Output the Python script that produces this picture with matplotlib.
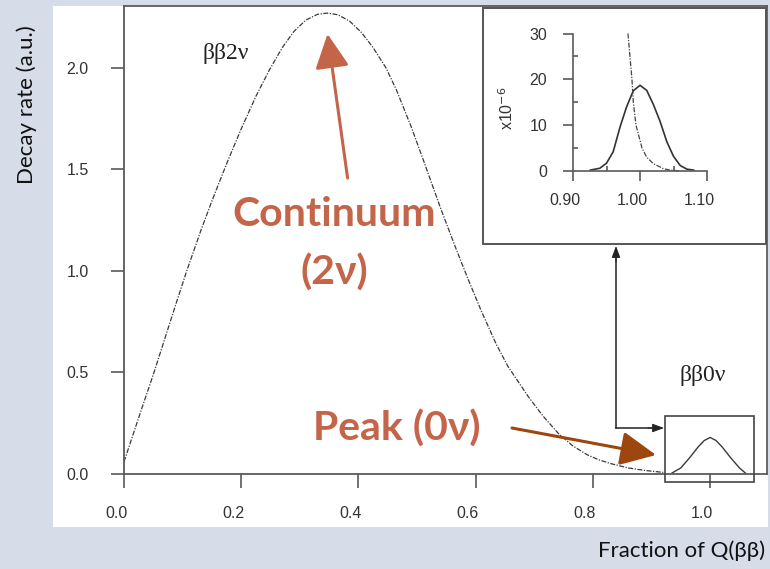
import matplotlib
matplotlib.use("Agg")
import matplotlib.pyplot as plt
from matplotlib.patches import Rectangle, FancyArrowPatch
from matplotlib.lines import Line2D
from matplotlib.transforms import ScaledTranslation

# ---------------- data ----------------
x_2nu = [0.000, 0.015, 0.03, 0.05, 0.07, 0.09, 0.107, 0.13, 0.15, 0.176, 0.20, 0.225,
         0.248, 0.27, 0.29, 0.31, 0.33, 0.346, 0.365, 0.385, 0.405, 0.425, 0.447, 0.465,
         0.49, 0.514, 0.54, 0.565, 0.587, 0.61, 0.635, 0.655, 0.669, 0.69, 0.715, 0.741,
         0.765, 0.79, 0.81, 0.832, 0.86, 0.89, 0.92]
y_2nu = [0.06, 0.19, 0.32, 0.49, 0.67, 0.85, 1.00, 1.19, 1.345, 1.535, 1.70, 1.86,
         1.99, 2.10, 2.18, 2.235, 2.264, 2.27, 2.262, 2.23, 2.175, 2.10, 2.00, 1.89,
         1.71, 1.52, 1.31, 1.12, 0.96, 0.80, 0.64, 0.53, 0.47, 0.38, 0.285, 0.20,
         0.14, 0.095, 0.07, 0.05, 0.03, 0.017, 0.008]

x_0nu = [0.935, 0.95, 0.965, 0.98, 0.99, 1.00, 1.01, 1.02, 1.035, 1.05, 1.06]
y_0nu = [0.005, 0.03, 0.08, 0.135, 0.165, 0.18, 0.165, 0.135, 0.08, 0.03, 0.005]

x_inset_0nu = [0.926, 0.94, 0.95, 0.96, 0.97, 0.98, 0.99, 1.00, 1.01, 1.02, 1.03,
               1.04, 1.05, 1.06, 1.07, 1.08]
y_inset_0nu = [0.2, 0.6, 1.7, 4.2, 9.5, 14.0, 17.5, 18.7, 17.6, 14.5, 10.8,
               6.4, 3.2, 1.2, 0.4, 0.2]

x_inset_2nu = [0.982, 0.985, 0.988, 0.990, 0.994, 1.003, 1.010, 1.020, 1.035, 1.045, 1.06]
y_inset_2nu = [30, 25, 20, 15, 10, 5, 3, 1.6, 0.5, 0.2, 0.0]

main_xticks = [0.0, 0.2, 0.4, 0.6, 0.8, 1.0]
main_yticks = [0.0, 0.5, 1.0, 1.5, 2.0]
inset_xticks = [0.90, 1.00, 1.10]
inset_xminor = [0.95, 1.05]
inset_yticks = [0, 10, 20, 30]
inset_yminor = [5, 15, 25]

# ---------------- figure ----------------
W, H = 770, 569
fig = plt.figure(figsize=(W / 100, H / 100), dpi=100)
fig.patch.set_facecolor("#D6DCE8")


def fx(x):
    return x / W


def fy(y):
    return 1 - y / H


def rect(x0, y0, x1, y1):
    return [fx(x0), fy(y1), fx(x1) - fx(x0), fy(y0) - fy(y1)]


# white panel
fig.patches.append(Rectangle((fx(53), fy(527)), fx(768) - fx(53), fy(6) - fy(527),
                             transform=fig.transFigure, facecolor="white",
                             edgecolor="none", zorder=-5))

tick_font = dict(family=["Liberation Sans", "DejaVu Sans"], size=11.5, color="#333333")
axis_col = "#5a5a5a"

# ---------------- main axes ----------------
ax = fig.add_axes(rect(124, 6, 767, 474))
ax.set_zorder(1)
ax.set_facecolor("none")
ax.set_xlim(0, 1.097)
ax.set_ylim(0, 2.305)
for s in ax.spines.values():
    s.set_color(axis_col)
    s.set_linewidth(1.3)
ax.set_xticks(main_xticks)
ax.set_xticklabels([f"{v:.1f}" for v in main_xticks], fontdict=tick_font)
ax.set_yticks(main_yticks)
ax.set_yticklabels([f"{v:.1f}" for v in main_yticks], fontdict=tick_font)
ax.tick_params(axis="x", direction="out", length=10, width=1.2, color=axis_col, pad=13)
ax.tick_params(axis="y", direction="out", length=9.4, width=1.2, color=axis_col, pad=16)
off = ScaledTranslation(-8 / 100, 0, fig.dpi_scale_trans)
for lab in ax.get_xticklabels():
    lab.set_transform(lab.get_transform() + off)

ax.plot(x_2nu, y_2nu, color="#3a3a3a", lw=0.9, linestyle=(0, (4, 1.2, 1, 1.2)),
        clip_on=False)
ax.plot(x_0nu, y_0nu, color="#3a3a3a", lw=1.0, clip_on=False)

serif = ["Liberation Serif", "DejaVu Serif"]
fig.text(fx(226), fy(53), "ββ2ν", ha="center", va="center",
         fontsize=17, family=serif, color="#222222", zorder=6)
fig.text(fx(703), fy(376), "ββ0ν", ha="center", va="center",
         fontsize=17, family=serif, color="#222222", zorder=6)

# small box around peak
fig.patches.append(Rectangle((fx(665), fy(482)), fx(754) - fx(665), fy(416) - fy(482),
                             transform=fig.transFigure, facecolor="none",
                             edgecolor="#444444", lw=1.2, zorder=5))
# connector lines with arrows
fig.lines.append(Line2D([fx(616), fx(616)], [fy(428), fy(255)], transform=fig.transFigure,
                        color="#222222", lw=1.1, zorder=5))
fig.lines.append(Line2D([fx(616), fx(655)], [fy(428), fy(428)], transform=fig.transFigure,
                        color="#222222", lw=1.1, zorder=5))
for (x0, y0, x1, y1) in [(616, 262, 616, 246), (648, 428, 664, 428)]:
    fig.patches.append(FancyArrowPatch((fx(x0), fy(y0)), (fx(x1), fy(y1)),
                                       transform=fig.transFigure,
                                       arrowstyle="-|>,head_length=7,head_width=2.6",
                                       mutation_scale=1, color="#222222", lw=0.8,
                                       shrinkA=0, shrinkB=0, zorder=6))

# inset frame
fig.patches.append(Rectangle((fx(483), fy(244)), fx(766) - fx(483), fy(8) - fy(244),
                             transform=fig.transFigure, facecolor="white",
                             edgecolor="#555555", lw=1.4, zorder=3))

# ---------------- inset axes ----------------
ai = fig.add_axes(rect(573, 33.5, 707, 171))
ai.set_zorder(4)
ai.set_facecolor("none")
ai.set_xlim(0.90, 1.10)
ai.set_ylim(0, 30)
ai.spines["top"].set_visible(False)
ai.spines["right"].set_visible(False)
for s in ("left", "bottom"):
    ai.spines[s].set_color(axis_col)
    ai.spines[s].set_linewidth(1.2)
ai.set_xticks(inset_xticks)
ai.set_xticklabels([f"{v:.2f}" for v in inset_xticks], fontdict=tick_font)
ai.set_xticks(inset_xminor, minor=True)
ai.set_yticks(inset_yticks)
ai.set_yticklabels([str(v) for v in inset_yticks], fontdict=tick_font)
ai.set_yticks(inset_yminor, minor=True)
ai.tick_params(axis="both", which="major", direction="out", length=7.5, width=1.2,
               color=axis_col)
ai.tick_params(axis="x", which="major", pad=8)
ai.tick_params(axis="y", which="major", pad=11)
ai.tick_params(axis="both", which="minor", direction="in", length=3.5, width=1.2,
               color=axis_col)
for lab in ai.get_xticklabels():
    lab.set_transform(lab.get_transform() + off)
ai.plot(x_inset_0nu, y_inset_0nu, color="#333333", lw=1.2, clip_on=False)
ai.plot(x_inset_2nu, y_inset_2nu, color="#444444", lw=0.9,
        linestyle=(0, (4, 1.2, 1, 1.2)), clip_on=False)
fig.text(fx(507), fy(108), r"x10$^{-6}$", rotation=90, ha="center", va="center",
         fontsize=11.5, family=["Liberation Sans", "DejaVu Sans"], color="#333333",
         zorder=6)

# ---------------- annotations ----------------
lato_b = dict(family=["Lato", "DejaVu Sans"], weight="bold", fontsize=29.5,
              color="#C4654A", zorder=8)
fig.text(fx(334), fy(215), "Continuum", ha="center", va="center", **lato_b)
fig.text(fx(334), fy(273), "(2ν)", ha="center", va="center", **lato_b)
fig.text(fx(397), fy(429), "Peak (0ν)", ha="center", va="center", **lato_b)

fig.patches.append(FancyArrowPatch((fx(347.6), fy(178)), (fx(327.5), fy(34)),
                                   transform=fig.transFigure,
                                   arrowstyle="-|>,head_length=21,head_width=10.5",
                                   mutation_scale=1, color="#C4654A", lw=2.2,
                                   shrinkA=0, shrinkB=0, zorder=7))
fig.patches.append(FancyArrowPatch((fx(512), fy(428)), (fx(656), fy(455)),
                                   transform=fig.transFigure,
                                   arrowstyle="-|>,head_length=22,head_width=10.5",
                                   mutation_scale=1, color="#9E460F", lw=2.2,
                                   shrinkA=0, shrinkB=0, zorder=7))

# ---------------- axis titles ----------------
gill = ["Lato", "DejaVu Sans"]
fig.text(fx(27), fy(105), "Decay rate (a.u.)", rotation=90, ha="center", va="center",
         fontsize=16, family=gill, color="#111111")
fig.text(fx(765), fy(551), "Fraction of Q(ββ)", ha="right", va="center",
         fontsize=16, family=gill, color="#111111")

fig.savefig("out.png", dpi=100, facecolor=fig.get_facecolor())
